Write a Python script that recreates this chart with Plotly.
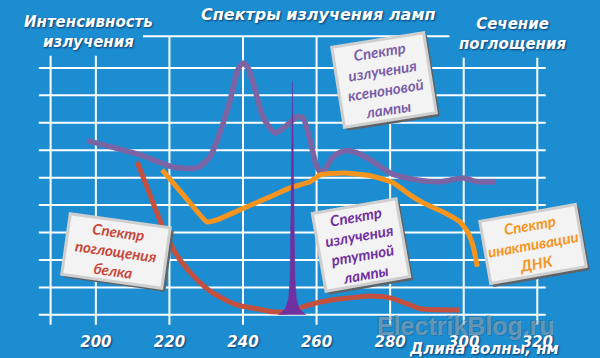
import plotly.graph_objects as go

# ---------------- data ----------------
xenon_x = [197.6, 212.0, 221.0, 227.5, 231.0, 233.7, 236.5, 238.6, 240.0, 241.4, 243.3, 245.4,
           248.7, 252.0, 254.7, 256.3, 258.2, 260.1, 261.5, 264.5, 267.5, 271.0, 274.6, 280.0,
           287.3, 293.6, 299.9, 303.7, 308.6]
xenon_y = [6.35, 5.83, 5.39, 5.36, 5.76, 6.63, 7.83, 8.93, 9.18, 9.0, 8.2, 7.22,
           6.63, 6.92, 7.22, 7.18, 6.38, 5.39, 5.17, 5.76, 5.98, 5.90, 5.65, 5.17,
           4.92, 4.85, 4.99, 4.85, 4.85]

protein_x = [211.2, 213.9, 216.6, 219.3, 222.9, 227.5, 231.8, 238.4, 243.8, 248.2, 252.8,
             256.3, 260.1, 264.5, 269.1, 274.6, 280.0, 285.4, 288.2, 299.0]
protein_y = [5.58, 4.66, 3.72, 2.84, 2.0, 1.28, 0.80, 0.36, 0.22, 0.11, 0.12,
             0.29, 0.44, 0.55, 0.62, 0.69, 0.62, 0.36, 0.22, 0.18]

dna_x = [218.0, 221.0, 225.6, 230.2, 232.9, 239.2, 247.3, 252.8, 258.2, 261.0, 267.2,
         274.6, 280.8, 285.4, 289.0, 294.4, 299.0, 301.2, 302.6, 303.7]
dna_y = [5.28, 4.81, 4.08, 3.39, 3.46, 3.83, 4.30, 4.63, 4.85, 5.10, 5.17,
         5.07, 4.81, 4.37, 4.08, 3.75, 3.39, 2.99, 2.48, 1.75]

hg_x = [249.6, 250.6, 251.6, 252.4, 252.8, 253.0, 253.2, 253.35, 253.45, 253.55, 253.7, 253.9,
        254.1, 254.5, 255.2, 256.2, 257.2]
hg_y = [0.0, 0.10, 0.25, 0.6, 1.3, 3.0, 5.0, 7.2, 8.5, 7.2, 5.0, 3.0,
        1.3, 0.6, 0.25, 0.10, 0.0]

tick_vals = [200, 220, 240, 260, 280, 300, 320]
tick_text = ["200", "220", "240", "260", "280", "300", "320"]

# ---------------- layout geometry ----------------
W, H = 600, 358
L, R, T, B = 37, 48, 13, 33
PW, PH = W - L - R, H - T - B


def pp(px, py):
    return (px - L) / PW, (H - py - B) / PH


BG = "#1c8dd1"
WHITE_SHADOW = "1px 1px 2px rgba(0,0,40,0.6)"

fig = go.Figure()

fig.add_trace(go.Scatter(x=xenon_x, y=xenon_y, mode="lines",
                         line=dict(color="#7b64a4", width=5.5, shape="spline", smoothing=0.7),
                         hoverinfo="skip"))
fig.add_trace(go.Scatter(x=protein_x, y=protein_y, mode="lines",
                         line=dict(color="#c4503f", width=5, shape="spline", smoothing=0.7),
                         hoverinfo="skip"))
fig.add_trace(go.Scatter(x=dna_x, y=dna_y, mode="lines",
                         line=dict(color="#f7941d", width=5, shape="spline", smoothing=0.5),
                         hoverinfo="skip"))
fig.add_trace(go.Scatter(x=hg_x, y=hg_y, mode="lines", fill="tozeroy",
                         fillcolor="#7030a0",
                         line=dict(color="#7030a0", width=0.5),
                         hoverinfo="skip"))

# ---------------- grid (white, stepped like the original) ----------------
shapes = []
grid_x = [187.7, 200, 220, 240, 260, 280, 300, 320]
grid_top = [9.44, 9.44, 10.13, 10.13, 10.13, 10.13, 9.37, 9.37]
for gx, gt in zip(grid_x, grid_top):
    shapes.append(dict(type="line", xref="x", yref="y", x0=gx, x1=gx, y0=-0.36, y1=gt,
                       line=dict(color="white", width=2), layer="below"))
for gy in range(10):
    shapes.append(dict(type="line", xref="x", yref="y", x0=184.5, x1=322.3, y0=gy, y1=gy,
                       line=dict(color="white", width=2), layer="below"))
shapes.append(dict(type="line", xref="x", yref="y", x0=212.8, x1=296.1, y0=10.15, y1=10.15,
                   line=dict(color="white", width=2), layer="below"))

annotations = []


def title_text(text, px, py, size):
    x, y = pp(px, py)
    annotations.append(dict(text=text, x=x, y=y, xref="paper", yref="paper",
                            xanchor="center", yanchor="middle", showarrow=False,
                            font=dict(family="DejaVu Sans", size=size, color="white",
                                      weight="bold", style="italic", shadow=WHITE_SHADOW)))


title_text("Спектры излучения ламп", 318, 15, 16)
title_text("Интенсивность<br>излучения", 88, 32, 15)
title_text("Сечение<br>поглощения", 512, 34, 15)
title_text("Длина волны, нм", 484, 349, 15)

# watermark
wx, wy = pp(466, 326)
annotations.append(dict(text="ElectrikBlog.ru", x=wx, y=wy, xref="paper", yref="paper",
                        xanchor="center", yanchor="middle", showarrow=False,
                        font=dict(family="Liberation Sans", size=25, color="rgba(190,200,210,0.45)",
                                  weight="bold",
                                  shadow="1px 1px 0 rgba(40,60,80,0.6), -1px -1px 0 rgba(40,60,80,0.6)")))

BOX_FONT = "Lato, Roboto, sans-serif"


def label_box(text, color, px, py, w, h, angle, size=15):
    x, y = pp(px, py)
    annotations.append(dict(text="", x=x, y=y, xref="paper", yref="paper",
                            xanchor="center", yanchor="middle", showarrow=False,
                            width=w, height=h, textangle=angle, bgcolor="#5f6368",
                            borderpad=3, borderwidth=0, xshift=3, yshift=-3))
    annotations.append(dict(text=text, x=x, y=y, xref="paper", yref="paper",
                            xanchor="center", yanchor="middle", showarrow=False,
                            width=w, height=h, textangle=angle, bgcolor="#f3f3f3",
                            bordercolor="#cfcfcf", borderwidth=3, borderpad=1,
                            font=dict(family=BOX_FONT, size=size, color=color,
                                      weight="bold", style="italic")))


label_box("Спектр<br>излучения<br>ксеноновой<br>лампы", "#7b5ea7", 384, 80, 88, 76, -9)
label_box("Спектр<br>поглощения<br>белка", "#c8473a", 116, 251, 96, 56, 8)
label_box("Спектр<br>излучения<br>ртутной<br>лампы", "#7030a0", 361, 245, 80, 74, -10)
label_box("Спектр<br>инактивации<br>ДНК", "#f7941d", 533, 244, 92, 58, -10)

fig.update_layout(
    width=W, height=H,
    margin=dict(l=L, r=R, t=T, b=B),
    paper_bgcolor=BG, plot_bgcolor=BG,
    showlegend=False,
    shapes=shapes,
    annotations=annotations,
    xaxis=dict(range=[184, 324], tickvals=tick_vals, ticktext=tick_text,
               showgrid=False, zeroline=False, showline=False, ticks="",
               ticklabelstandoff=6,
               tickfont=dict(family="DejaVu Sans", size=15, color="white",
                             weight="bold", style="italic", shadow=WHITE_SHADOW),
               fixedrange=True, automargin=False),
    yaxis=dict(range=[-0.37, 11.0], visible=False, showgrid=False, zeroline=False,
               fixedrange=True),
)

fig.write_html("out.html", config={"displayModeBar": False},
               post_script="document.body.style.margin='0';document.body.style.background='" + BG + "';")
